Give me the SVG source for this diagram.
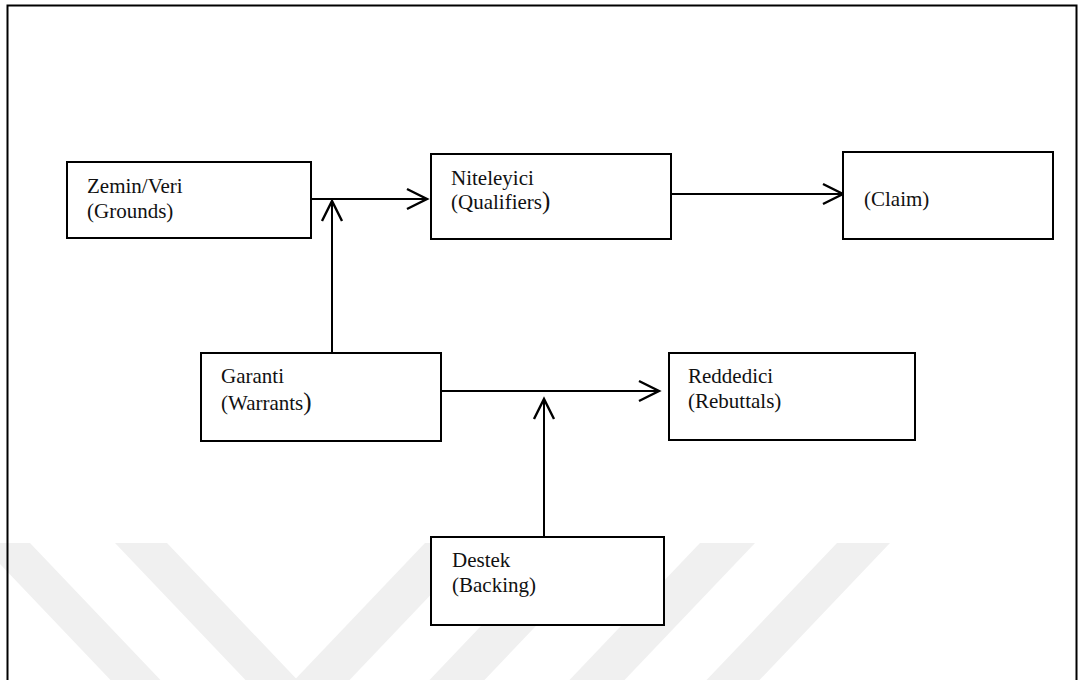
<svg xmlns="http://www.w3.org/2000/svg" width="1085" height="680" viewBox="0 0 1085 680">
  <style>
    .wm { fill: #f0f0f0; stroke: none; }
    .box { fill: #ffffff; stroke: #000000; stroke-width: 2; }
    .lbl { font-family: "Liberation Serif", "Times New Roman", serif; font-size: 21px; fill: #111111; }
    .big { font-size: 25px; }
    .edge { fill: none; stroke: #000000; stroke-width: 2; }
  </style>
  <defs>
    <marker id="arr" viewBox="0 0 24 24" refX="21" refY="12" markerWidth="24" markerHeight="24" markerUnits="userSpaceOnUse" orient="auto">
      <path d="M1,2 L21,12 L1,22" fill="none" stroke="#000000" stroke-width="2.4"/>
    </marker>
  </defs>
  <rect x="0" y="0" width="1085" height="680" fill="#ffffff"/>
  <g id="watermark">
    <polygon class="wm" points="-20,543 30,543 170,690 120,690"/>
    <polygon class="wm" points="115,543 167,543 307,690 255,690"/>
    <polygon class="wm" points="425,543 480,543 340,690 285,690"/>
    <polygon class="wm" points="560,543 615,543 475,690 420,690"/>
    <polygon class="wm" points="700,543 755,543 615,690 560,690"/>
    <polygon class="wm" points="837,543 890,543 750,690 697,690"/>
  </g>
  <rect id="frame" x="7.5" y="5.5" width="1069" height="700" fill="none" stroke="#000000" stroke-width="2"/>
  <g id="connectors">
    <line class="edge" x1="311" y1="199" x2="427" y2="199" marker-end="url(#arr)"/>
    <line class="edge" x1="332" y1="353" x2="332" y2="201" marker-end="url(#arr)"/>
    <line class="edge" x1="671" y1="194" x2="843" y2="194" marker-end="url(#arr)"/>
    <line class="edge" x1="441" y1="391" x2="659" y2="391" marker-end="url(#arr)"/>
    <line class="edge" x1="544" y1="537" x2="544" y2="399" marker-end="url(#arr)"/>
  </g>
  <g id="zemin">
    <rect class="box" x="67" y="162" width="244" height="76"/>
    <text class="lbl" x="87" y="193">Zemin/Veri</text>
    <text class="lbl" x="87" y="218">(Grounds)</text>
  </g>
  <g id="niteleyici">
    <rect class="box" x="431" y="154" width="240" height="85"/>
    <text class="lbl" x="451" y="185">Niteleyici</text>
    <text class="lbl" x="451" y="209">(Qualifiers<tspan class="big">)</tspan></text>
  </g>
  <g id="claim">
    <rect class="box" x="843" y="152" width="210" height="87"/>
    <text class="lbl" x="864" y="206">(Claim)</text>
  </g>
  <g id="garanti">
    <rect class="box" x="201" y="353" width="240" height="88"/>
    <text class="lbl" x="221" y="383">Garanti</text>
    <text class="lbl" x="221" y="410">(Warrants<tspan class="big">)</tspan></text>
  </g>
  <g id="reddedici">
    <rect class="box" x="669" y="353" width="246" height="87"/>
    <text class="lbl" x="688" y="383">Reddedici</text>
    <text class="lbl" x="688" y="408">(Rebuttals)</text>
  </g>
  <g id="destek">
    <rect class="box" x="431" y="537" width="233" height="88"/>
    <text class="lbl" x="452" y="567">Destek</text>
    <text class="lbl" x="452" y="592">(Backing)</text>
  </g>
</svg>
